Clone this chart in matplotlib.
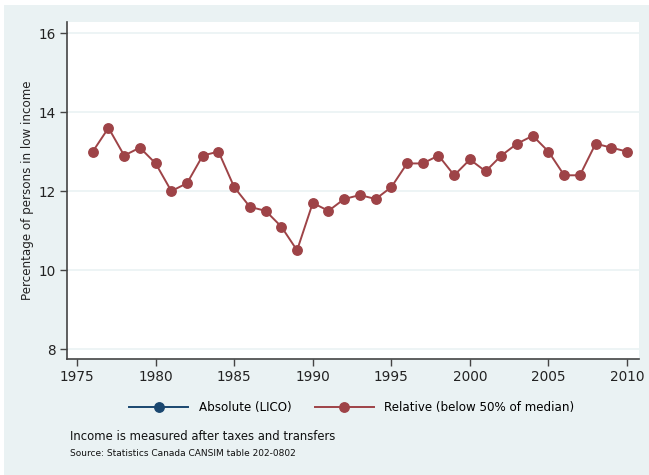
import matplotlib
matplotlib.use("Agg")
import matplotlib.pyplot as plt
from matplotlib.lines import Line2D

years = list(range(1976, 2011))
relative = [13.0, 13.6, 12.9, 13.1, 12.7, 12.0, 12.2, 12.9, 13.0, 12.1,
            11.6, 11.5, 11.1, 10.5, 11.7, 11.5, 11.8, 11.9, 11.8, 12.1,
            12.7, 12.7, 12.9, 12.4, 12.8, 12.5, 12.9, 13.2, 13.4, 13.0,
            12.4, 12.4, 13.2, 13.1, 13.0]
xticks = [1975, 1980, 1985, 1990, 1995, 2000, 2005, 2010]
yticks = [8, 10, 12, 14, 16]

BG = "#EAF2F3"
RED = "#9E4347"
BLUE = "#1A476F"

fig = plt.figure(figsize=(6.49, 4.75), dpi=100)
fig.patch.set_facecolor("white")
fig.patches.append(plt.Rectangle((4/649, 0), 1, 1 - 5/475, transform=fig.transFigure,
                                 facecolor=BG, edgecolor="none", zorder=-10))

ax = fig.add_axes([67/649, 1 - 359/475, (639-67)/649, (359-22)/475])
ax.set_facecolor("white")
ax.plot(years, relative, color=RED, lw=1.4, marker="o", ms=6.8,
        markeredgecolor=RED, markerfacecolor=RED, zorder=3)
ax.set_xlim(1974.36, 2010.76)
ax.set_ylim(7.75, 16.28)
ax.set_xticks(xticks)
ax.set_yticks(yticks)
ax.grid(axis="y", color=BG, lw=1.2)
ax.grid(axis="x", visible=False)
for s in ["top", "right"]:
    ax.spines[s].set_visible(False)
for s in ["left", "bottom"]:
    ax.spines[s].set_color("#444444")
    ax.spines[s].set_linewidth(1.2)
ax.tick_params(axis="both", colors="#444444", labelcolor="#222222",
               labelsize=9.8, length=5, width=1.0, pad=3)
ax.set_ylabel("Percentage of persons in low income", fontsize=8.6, color="#222222", labelpad=3)

handles = [Line2D([], [], color=BLUE, lw=1.4, marker="o", ms=6.8),
           Line2D([], [], color=RED, lw=1.4, marker="o", ms=6.8)]
fig.legend(handles, ["Absolute (LICO)", "Relative (below 50% of median)"],
           loc="center", bbox_to_anchor=(352/649, 1 - 408/475), ncol=2, frameon=False,
           fontsize=8.6, handlelength=4.9, handletextpad=0.9, columnspacing=2.0,
           numpoints=1)

fig.text(70/649, 1 - 436/475, "Income is measured after taxes and transfers",
         fontsize=8.4, color="#111111", va="center")
fig.text(70/649, 1 - 454/475, "Source: Statistics Canada CANSIM table 202-0802",
         fontsize=6.5, color="#111111", va="center")

fig.savefig("out.png", dpi=100, facecolor=fig.get_facecolor())
